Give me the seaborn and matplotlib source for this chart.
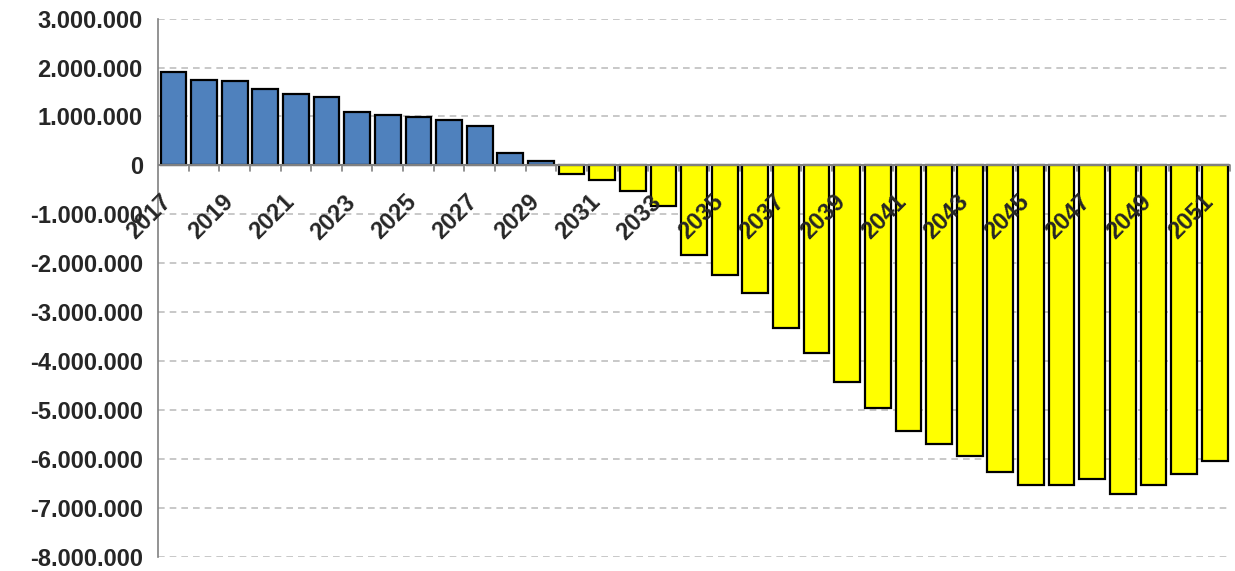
import numpy as np
import pandas as pd
import matplotlib
matplotlib.use("Agg")
import matplotlib.pyplot as plt
import matplotlib.transforms as mtransforms
from matplotlib.ticker import FuncFormatter
import seaborn as sns

years = list(range(2017, 2052))
values = [1910000, 1750000, 1720000, 1570000, 1460000, 1400000, 1090000,
          1040000, 980000, 930000, 810000, 260000, 90000,
          -180000, -300000, -530000, -820000, -1840000, -2240000, -2600000,
          -3320000, -3830000, -4430000, -4960000, -5430000, -5690000,
          -5930000, -6270000, -6530000, -6530000, -6410000, -6720000,
          -6520000, -6310000, -6040000]

df = pd.DataFrame({"year": [str(y) for y in years], "value": values})
df["sign"] = np.where(df["value"] >= 0, "pos", "neg")

sns.set_style("white")
plt.rcParams["font.family"] = ["Liberation Sans", "DejaVu Sans"]

fig = plt.figure(figsize=(12.35, 5.71), dpi=100)
ax = fig.add_axes([0.128, 0.0245, 0.868, 0.943])

sns.barplot(data=df, x="year", y="value", hue="sign",
            palette={"pos": "#4F81BD", "neg": "#FFFF00"}, saturation=1,
            dodge=False, width=0.84, edgecolor="black", linewidth=1.6,
            legend=False, ax=ax, zorder=3)

ax.set_ylim(-8000000, 3000000)
ax.set_xlim(-0.5, len(years) - 0.5)
ax.set_yticks(np.arange(-8000000, 3000001, 1000000))
ax.yaxis.set_major_formatter(FuncFormatter(lambda v, p: f"{int(v):,}".replace(",", ".")))
ax.grid(axis="y", color="#BFBFBF", linestyle=(0, (4, 3)), linewidth=1.2, zorder=0)
ax.set_xlabel("")
ax.set_ylabel("")

for s in ["top", "right", "bottom"]:
    ax.spines[s].set_visible(False)
ax.spines["left"].set_color("#808080")
ax.spines["left"].set_linewidth(1.2)
ax.axhline(0, color="#808080", linewidth=1.5, zorder=4)

# tick marks at category boundaries, below the zero line
ax.set_xticks([])
for b in np.arange(0.5, len(years), 1):
    ax.plot([b, b], [0, -110000], color="#808080", linewidth=1.2, zorder=4, clip_on=False)

# year labels every other bar, drawn on top of the bars
off = mtransforms.ScaledTranslation(2 / 72, -18 / 72, fig.dpi_scale_trans)
for i in range(0, len(years), 2):
    ax.text(i, 0, str(years[i]), rotation=45, ha="right", va="top",
            fontsize=17, fontweight="bold", zorder=6,
            transform=ax.transData + off)

ax.tick_params(axis="y", length=5, color="#808080", labelsize=17, pad=6)
for lab in ax.get_yticklabels():
    lab.set_fontweight("bold")

fig.savefig("out.png", dpi=100)
